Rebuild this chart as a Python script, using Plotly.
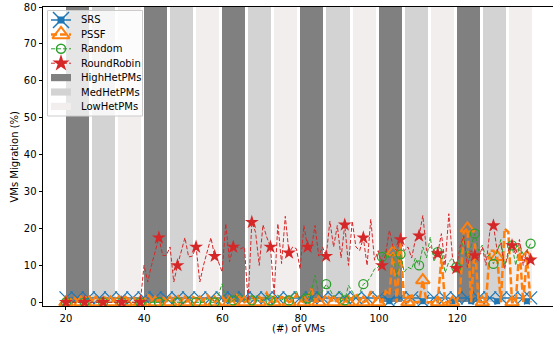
import numpy as np
import plotly.graph_objects as go

# ---------------------------------------------------------------- data
# number of VMs in each run
vms = np.linspace(20, 138.75, 126)

srs = [
    1.2, 1.2, 1.2, 1.2, 1.2, 1.2, 1.2, 1.2, 1.2, 1.2,
    1.2, 1.2, 1.2, 1.2, 1.2, 1.2, 1.2, 1.2, 1.2, 1.2,
    1.2, 1.2, 1.2, 1.2, 1.2, 1.2, 1.2, 1.2, 1.2, 1.2,
    1.2, 1.2, 1.2, 1.2, 1.2, 1.2, 1.2, 1.2, 1.2, 1.2,
    1.2, 1.2, 1.2, 1.2, 1.2, 1.2, 1.2, 1.2, 1.2, 1.2,
    1.2, 1.2, 1.2, 1.2, 1.2, 1.2, 1.2, 1.2, 1.2, 1.2,
    1.2, 1.2, 1.2, 1.2, 1.2, 1.2, 1.2, 1.2, 1.2, 1.2,
    1.2, 1.2, 1.2, 1.2, 1.2, 1.2, 1.2, 1.2, 1.2, 1.2,
    1.2, 1.2, 1.2, 1.2, 1.2, 1.2, 1.2, 0.3, 1.2, 1.2,
    1.2, 1.2, 1.2, 1.2, 1.2, 1.2, 0.3, 1.2, 1.2, 1.2,
    1.2, 1.2, 1.2, 1.2, 0.3, 1.2, 1.2, 1.2, 1.2, 0.3,
    1.2, 1.2, 1.2, 1.2, 1.2, 1.2, 0.3, 1.2, 1.2, 1.2,
    1.2, 1.2, 1.2, 1.2, 0.3, 1.2,
]

pssf = [
    0, 0.5, 1.5, 0.5, 0, 1, 2, 0.5, 0, 0.5,
    1.5, 1, 0, 0.5, 2, 0.5, 0, 1, 1.5, 0.5,
    0, 0.5, 2, 1, 0, 0.5, 1.5, 0.5, 0, 1,
    2, 0.5, 0, 0.5, 1.5, 1, 0, 0.5, 2, 0.5,
    0, 1, 1.5, 0.5, 0, 0.5, 2, 1, 0, 0.5,
    1.5, 0.5, 0, 1, 2.5, 0.5, 0, 0.5, 1.5, 1,
    0, 0.5, 2, 0.5, 0, 1, 3.7, 0.5, 0, 0.5,
    2, 1, 0, 0.5, 1.5, 0.5, 0, 1, 2.5, 0.5,
    0, 0.5, 3, 1, 0, 0, 3, 2, 13.6, 0,
    16, 0, 0, 2, 0, 0, 6, 0, 0, 0,
    0, 12, 0, 0, 0, 0, 3, 19, 20, 0,
    16, 0, 0, 0, 14, 14, 12.3, 0, 20, 19,
    0, 0, 15, 0, 12.3, 0,
]

random_alloc = [
    0, 0, 0, 0, 0, 0, 0, 0, 0, 0,
    0, 0, 0, 0, 0, 0, 0, 0, 0, 0,
    0, 0, 0, 0, 0, 0, 0, 1, 0, 0,
    0, 0, 0, 1.5, 0, 0, 0, 0, 1, 0,
    0, 2, 5, 1, 0, 0.5, 1.5, 2.5, 0.5, 1,
    0.5, 2, 1, 0.5, 2, 0.5, 1, 2, 0.5, 1.5,
    0.5, 2, 3, 0.5, 2.5, 1, 3, 7.3, 2, 3,
    4.9, 3.5, 1.5, 2.5, 3, 0.5, 4.6, 3, 1, 2.5,
    4.9, 5.5, 7, 9, 9.5, 12.3, 14, 12, 13, 7,
    13, 8.2, 9.5, 9, 12, 10, 15, 12, 17.7, 11,
    13.6, 14, 8, 11, 12, 9.5, 13, 17.7, 12, 15,
    18.6, 14, 15.5, 12, 13, 10.4, 14, 17, 10, 13,
    15.4, 10, 16, 13, 14, 15.9,
]

round_robin = [
    0, 0, 0, 0, 0, 0, 0, 0, 0, 0,
    0, 0, 0, 0, 0, 0, 0, 0, 0, 0,
    0, 10, 5.5, 10, 14, 17.5, 12.7, 12.7, 15, 5.5,
    10, 14, 17.5, 12.3, 12.5, 15, 5.5, 10, 14, 17.5,
    12.5, 11, 8.2, 21.3, 11, 15, 15, 14.5, 15, 0.5,
    21.7, 19, 10, 21, 17.7, 15, 2, 21.3, 10.5, 23.3,
    13.4, 15, 14.5, 9, 20.8, 15, 14.5, 20.8, 12.5, 15,
    12.5, 22, 15, 20.8, 12, 21, 10, 22, 15, 14,
    17.5, 10, 22.5, 11.4, 14, 10, 13, 19.5, 15, 14,
    17, 14, 15, 12, 17, 18, 23.5, 14, 15, 14,
    13.2, 18.6, 10, 24, 12, 9.2, 15, 18, 9.5, 14,
    12.7, 12, 15, 10, 19, 20.8, 14, 16, 9, 14,
    15.4, 13, 17, 10, 14, 11.5,
]

# which runs carry a marker on each curve
srs_x_marks = list(range(0, 126, 3)) + [125]
srs_square_marks = [87, 96, 104, 109, 116, 124]
pssf_marks = list(range(0, 126, 4))
random_marks = list(range(0, 126, 5))
rr_marks = list(range(0, 126, 5))

# heterogeneity bands: one group of three per block of 20 VMs
group_starts = [20, 40, 60, 80, 100, 120]
band_names = ["HighHetPMs", "MedHetPMs", "LowHetPMs"]
band_top = 80

series_names = ["SRS", "PSSF", "Random", "RoundRobin"]

# ---------------------------------------------------------------- style
assert all(len(s) == len(vms) for s in (srs, pssf, random_alloc, round_robin))

FONT = "DejaVu Sans"
BLUE, ORANGE, GREEN, RED = "#1f77b4", "#ff7f0e", "#2ca02c", "#d62728"
BAND_COLORS = ["#808080", "#d3d3d3", "#f2eeee"]
BAND_STEP = 20 / 3
BAND_WIDTH = 5.9

W, H = 553, 340
ML, MR, MT, MB = 43, 0, 7, 34
PX0, PX1 = ML, W - MR          # plot area in pixels
PY0, PY1 = MT, H - MB

fig = go.Figure()

# background bands
for j, (name, col) in enumerate(zip(band_names, BAND_COLORS)):
    fig.add_trace(go.Bar(
        x=[g + j * BAND_STEP + BAND_WIDTH / 2 - 0.1 for g in group_starts],
        y=[band_top] * len(group_starts),
        width=BAND_WIDTH,
        marker=dict(color=col, line=dict(width=0)),
        name=name, showlegend=False,
    ))


def pick(vals, idx):
    return [vms[i] for i in idx], [vals[i] for i in idx]


# SRS
fig.add_trace(go.Scatter(x=vms, y=srs, mode="lines",
                         line=dict(color=BLUE, width=1.5), showlegend=False))
mx, my = pick(srs, srs_x_marks)
fig.add_trace(go.Scatter(x=mx, y=my, mode="markers", showlegend=False,
                         marker=dict(symbol="x-thin-open", size=13, color=BLUE,
                                     line=dict(width=1.3, color=BLUE))))
mx, my = pick(srs, srs_square_marks)
fig.add_trace(go.Scatter(x=mx, y=my, mode="markers", showlegend=False,
                         marker=dict(symbol="square", size=6, color=BLUE)))

# PSSF
fig.add_trace(go.Scatter(x=vms, y=pssf, mode="lines", showlegend=False,
                         line=dict(color=ORANGE, width=2.5, dash="7px,3px")))
mx, my = pick(pssf, pssf_marks)
fig.add_trace(go.Scatter(x=mx, y=my, mode="markers", showlegend=False,
                         marker=dict(symbol="triangle-up-open", size=12, color=ORANGE,
                                     line=dict(width=2, color=ORANGE))))

# Random
fig.add_trace(go.Scatter(x=vms, y=random_alloc, mode="lines", showlegend=False,
                         line=dict(color=GREEN, width=1, dash="4px,2px")))
mx, my = pick(random_alloc, random_marks)
fig.add_trace(go.Scatter(x=mx, y=my, mode="markers", showlegend=False,
                         marker=dict(symbol="circle-open", size=9, color=GREEN,
                                     line=dict(width=1.3, color=GREEN))))

# RoundRobin
fig.add_trace(go.Scatter(x=vms, y=round_robin, mode="lines", showlegend=False,
                         line=dict(color=RED, width=1, dash="4px,2px")))
mx, my = pick(round_robin, rr_marks)
fig.add_trace(go.Scatter(x=mx, y=my, mode="markers", showlegend=False,
                         marker=dict(symbol="star", size=10.5, color=RED,
                                     line=dict(width=0))))

# ---------------------------------------------------------------- legend
# drawn on a pixel-space overlay axis so rows can sit closer than plotly's own legend allows
LEG_X0, LEG_X1, LEG_Y0, LEG_Y1 = 47.5, 142.5, 10.5, 116
ROW0, ROW_STEP = 20, 14.4
HX0, HX1, TEXT_X = 51, 71, 79
HMID = (HX0 + HX1) / 2
ov = dict(xaxis="x2", yaxis="y2", showlegend=False, hoverinfo="skip")

fig.add_trace(go.Scatter(
    x=[LEG_X0, LEG_X1, LEG_X1, LEG_X0, LEG_X0],
    y=[LEG_Y0, LEG_Y0, LEG_Y1, LEG_Y1, LEG_Y0],
    mode="lines", fill="toself", fillcolor="rgba(255,255,255,0.8)",
    line=dict(color="#cccccc", width=1), **ov))

line_styles = [
    dict(color=BLUE, width=1.5),
    dict(color=ORANGE, width=2.5, dash="6px,3px"),
    dict(color=GREEN, width=1, dash="4px,2px"),
    dict(color=RED, width=1, dash="4px,2px"),
]
marker_styles = [
    dict(symbol="x-thin-open", size=16, color=BLUE, line=dict(width=1.5, color=BLUE)),
    dict(symbol="triangle-up-open", size=15, color=ORANGE, line=dict(width=2, color=ORANGE)),
    dict(symbol="circle-open", size=9, color=GREEN, line=dict(width=1.5, color=GREEN)),
    dict(symbol="star", size=13, color=RED, line=dict(width=0)),
]

annotations = []


def paper_x(px):
    return (px - PX0) / (PX1 - PX0)


def paper_y(py):
    return (PY1 - py) / (PY1 - PY0)


for i, name in enumerate(series_names):
    ry = ROW0 + i * ROW_STEP
    fig.add_trace(go.Scatter(x=[HX0, HX1], y=[ry, ry], mode="lines",
                             line=line_styles[i], **ov))
    if i == 0:
        fig.add_trace(go.Scatter(x=[HMID], y=[ry], mode="markers",
                                 marker=dict(symbol="square", size=7, color=BLUE), **ov))
    fig.add_trace(go.Scatter(x=[HMID], y=[ry], mode="markers",
                             marker=marker_styles[i], **ov))

for j, (name, col) in enumerate(zip(band_names, BAND_COLORS)):
    ry = ROW0 + (len(series_names) + j) * ROW_STEP
    fig.add_trace(go.Scatter(
        x=[HX0, HX1, HX1, HX0, HX0],
        y=[ry - 3.6, ry - 3.6, ry + 3.6, ry + 3.6, ry - 3.6],
        mode="lines", fill="toself", fillcolor=col, line=dict(width=0), **ov))

for i, name in enumerate(series_names + band_names):
    ry = ROW0 + i * ROW_STEP
    annotations.append(dict(
        x=paper_x(TEXT_X), y=paper_y(ry), xref="paper", yref="paper",
        text=name, showarrow=False, xanchor="left", yanchor="middle",
        font=dict(family=FONT, size=10, color="black")))

# axis titles
annotations.append(dict(
    x=paper_x(14), y=paper_y((PY0 + PY1) / 2), xref="paper", yref="paper",
    text="VMs Migration (%)", textangle=-90, showarrow=False,
    xanchor="center", yanchor="middle",
    font=dict(family=FONT, size=10, color="black")))
annotations.append(dict(
    x=paper_x(298), y=paper_y(328.5), xref="paper", yref="paper",
    text="(#) of VMs", showarrow=False, xanchor="center", yanchor="middle",
    font=dict(family=FONT, size=10, color="black")))

# ---------------------------------------------------------------- layout
axis_common = dict(
    showgrid=False, zeroline=False, showline=True, linecolor="black", linewidth=0.8,
    ticks="outside", ticklen=3.5, tickwidth=0.8, tickcolor="black",
    tickfont=dict(family=FONT, size=10, color="black"), automargin=False,
)

fig.update_layout(
    width=W, height=H,
    margin=dict(l=ML, r=MR, t=MT, b=MB, pad=0),
    template="none",
    plot_bgcolor="white", paper_bgcolor="white",
    barmode="overlay", bargap=0,
    showlegend=False,
    xaxis=dict(range=[14.13, 144.47], tickvals=[20, 40, 60, 80, 100, 120],
               mirror=True, **axis_common),
    yaxis=dict(range=[-1, 80], tickvals=list(range(0, 81, 10)), **axis_common),
    xaxis2=dict(overlaying="x", anchor="y2", range=[PX0, PX1], visible=False,
                fixedrange=True),
    yaxis2=dict(overlaying="y", anchor="x2", range=[PY1, PY0], visible=False,
                fixedrange=True),
    annotations=annotations,
    font=dict(family=FONT, size=10, color="black"),
)

fig.write_html("out.html")
